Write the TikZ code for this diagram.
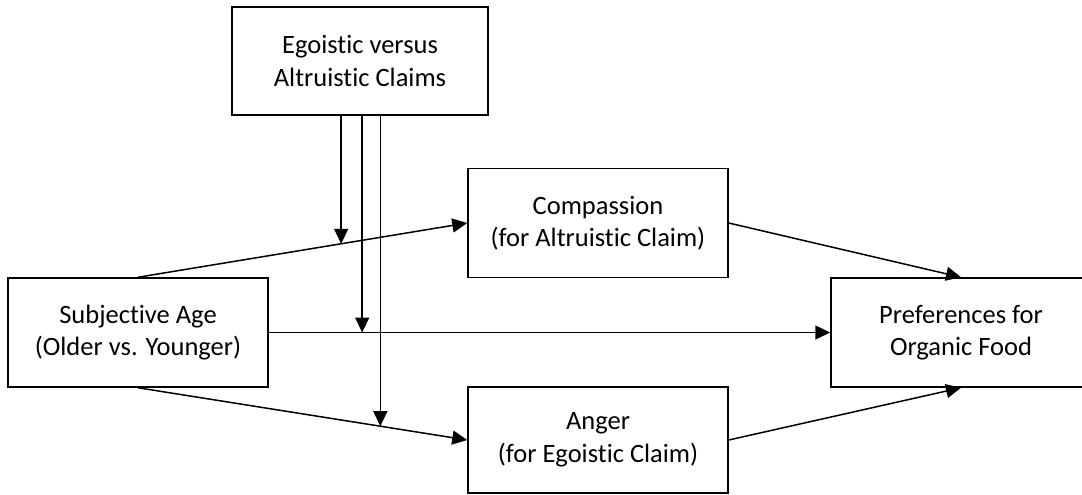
\documentclass[tikz,border=0pt]{standalone}
\usepackage{fontspec}
\setmainfont[Ligatures=NoCommon]{Carlito}
\usetikzlibrary{arrows.meta,calc}
\tikzset{
  box/.style={draw=black, line width=1.5pt, inner sep=0pt, align=center,
    font=\fontsize{26.5}{32.5}\selectfont, minimum width=260pt, minimum height=109pt},
  conn/.style={line width=1.5pt, -{Triangle[length=15pt,width=14pt]}},
}
\begin{document}
\begin{tikzpicture}[x=1pt,y=-1pt]
\useasboundingbox (0,0) rectangle (1082,495);
\node[box, minimum width=256pt, minimum height=108pt] (top) at (360,61) {Egoistic versus\\Altruistic Claims};
\node[box] (comp) at (598,223) {Compassion\\(for Altruistic Claim)};
\node[box] (subj) at (138,332.5) {Subjective Age\\(Older vs. Younger)};
\node[box] (pref) at (961,332.5) {Preferences for\\Organic Food};
\node[box, minimum height=106pt] (anger) at (598,440) {Anger\\(for Egoistic Claim)};
\draw[conn] (subj.north) -- (comp.west);
\draw[conn] (subj.east) -- (pref.west);
\draw[conn] (subj.south) -- (anger.west);
\draw[conn] (comp.east) -- (pref.north);
\draw[conn] (anger.east) -- (pref.south);
\coordinate (m1) at ($(subj.north)!0.617!(comp.west)$);
\coordinate (m2) at ($(subj.east)!0.1664!(pref.west)$);
\coordinate (m3) at ($(subj.south)!0.736!(anger.west)$);
\draw[conn] (top.south -| m1) -- (m1);
\draw[conn] (top.south -| m2) -- (m2);
\draw[conn] (top.south -| m3) -- (m3);
\end{tikzpicture}
\end{document}
